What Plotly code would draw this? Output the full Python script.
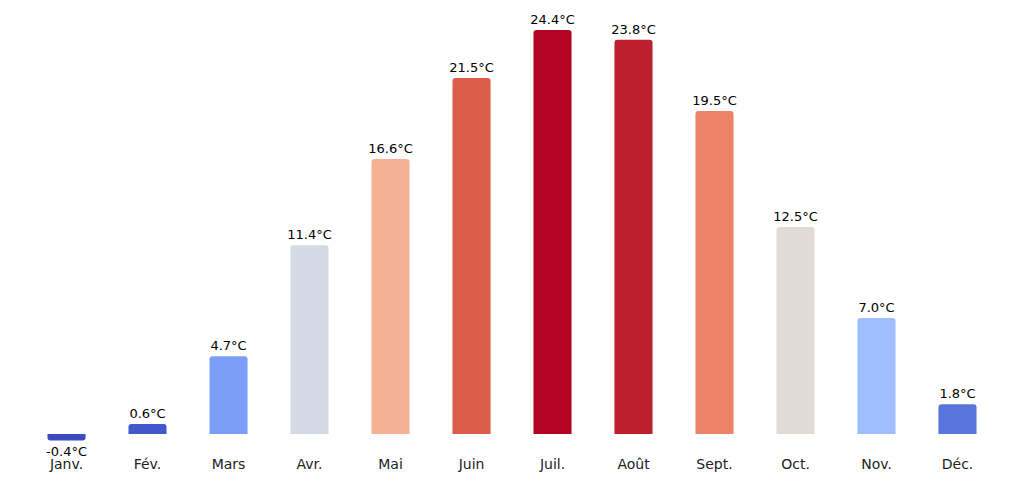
import plotly.graph_objects as go

months = ["Janv.", "Fév.", "Mars", "Avr.", "Mai", "Juin", "Juil.", "Août", "Sept.", "Oct.", "Nov.", "Déc."]
temps = [-0.4, 0.6, 4.7, 11.4, 16.6, 21.5, 24.4, 23.8, 19.5, 12.5, 7.0, 1.8]
colors = ["#3b4cc0", "#4257c9", "#7b9ff9", "#d5dbe5", "#f5b194", "#dc5d4a",
          "#b40426", "#bd1f2d", "#ed8366", "#e2dad5", "#9ebeff", "#5875de"]

fig = go.Figure(go.Bar(
    x=months, y=temps,
    marker=dict(color=colors, line=dict(width=0)),
    width=0.47,
    text=[f"{t:.1f}°C" for t in temps],
    textposition="outside",
    textfont=dict(size=13, color="black"),
    cliponaxis=False,
))

fig.update_layout(
    width=1024, height=485,
    margin=dict(l=18, r=34, t=6, b=39),
    plot_bgcolor="white", paper_bgcolor="white",
    font=dict(family="DejaVu Sans", size=14, color="#222"),
    barcornerradius=3,
    uniformtext=dict(mode="show", minsize=13),
    showlegend=False,
    xaxis=dict(range=[-0.5, 11.5], showgrid=False, showline=False, ticks=""),
    yaxis=dict(range=[-1.21, 25.36], visible=False),
)

fig.write_html("out.html")
